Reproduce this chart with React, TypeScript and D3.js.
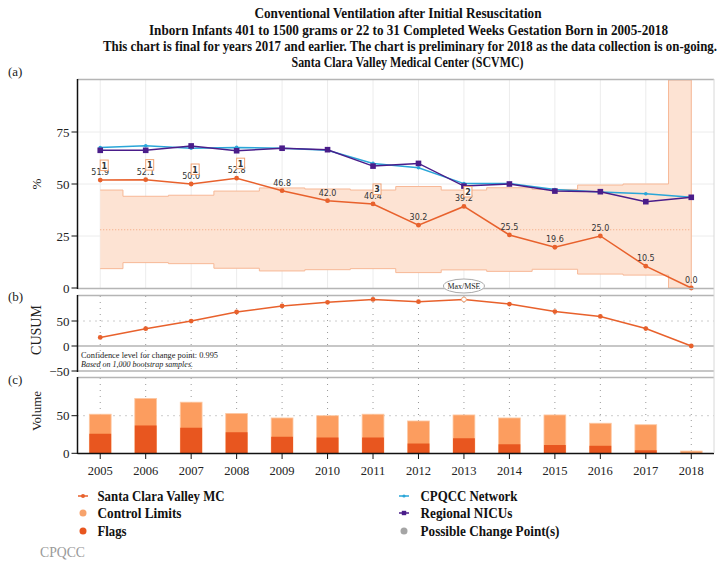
import React from "react";
import * as d3 from "d3";

const years = [2005, 2006, 2007, 2008, 2009, 2010, 2011, 2012, 2013, 2014, 2015, 2016, 2017, 2018];
const scvmc = [51.9, 52.1, 50.0, 52.8, 46.8, 42.0, 40.4, 30.2, 39.2, 25.5, 19.6, 25.0, 10.5, 0.0];
const network = [67.5, 68.4, 67.2, 67.6, 67.2, 66.2, 59.9, 57.8, 50.2, 50.2, 47.3, 46.2, 45.3, 43.6];
const regional = [66.2, 66.2, 68.3, 66.0, 67.2, 66.5, 58.6, 59.9, 49.0, 50.0, 46.6, 46.3, 41.5, 43.6];
const upperLimit = [47.1, 44.1, 44.6, 46.6, 48.1, 47.6, 47.1, 48.8, 47.1, 48.2, 47.4, 49.5, 50.0, 100];
const lowerLimit = [9.3, 12.2, 11.7, 9.5, 8.2, 8.8, 9.3, 7.4, 8.7, 8.0, 9.0, 6.7, 6.2, 0];
const centerValue = 28.0;
const flags = [1, 1, 1, 1, 0, 0, 3, 0, 2, 0, 0, 0, 0, 0];
const cusum = [17.2, 34.6, 49.9, 68.0, 80.1, 87.4, 93.1, 88.6, 93.1, 83.9, 68.8, 59.1, 34.9, 0.0];
const changePointYear = 2013;
const volumeTotal = [52, 73, 68, 53, 47, 50, 52, 43, 51, 47, 51, 40, 38, 3];
const volumeFlagged = [26, 37, 34, 28, 22, 21, 21, 13, 20, 12, 11, 10, 4, 0];
const ticksA = [0, 25, 50, 75];
const ticksB = [-50, 0, 50];
const ticksC = [0, 50];

const titleLines = [
  "Conventional Ventilation after Initial Resuscitation",
  "Inborn Infants 401 to 1500 grams or 22 to 31 Completed Weeks Gestation Born in 2005-2018",
  "This chart is final for years 2017 and earlier. The chart is preliminary for 2018 as the data collection is on-going.",
  "Santa Clara Valley Medical Center (SCVMC)",
];

const C_SC = "#e8612c";
const C_NET = "#2aa6d8";
const C_REG = "#4a1d8a";
const C_BAND = "#fde3d3";
const C_BAND_STROKE = "#f7b896";
const C_LIGHT = "#fc9d5f";
const C_DARK = "#e8561f";
const C_FRAME = "#b5b5b5";
const SERIF = "'Liberation Serif', 'DejaVu Serif', serif";
const SANS = "'DejaVu Sans', Verdana, sans-serif";

export default function App() {
  const W = 726, H = 568;
  const x = d3.scaleBand<number>().domain(years).range([77.5, 714]);
  const cx = (yr: number) => (x(yr) as number) + x.bandwidth() / 2;
  const ya = d3.scaleLinear().domain([0, 100]).range([288, 80]);
  const yb = d3.scaleLinear().domain([-50, 100]).range([371, 296]);
  const yc = d3.scaleLinear().domain([0, 100]).range([453.3, 378.1]);
  const left = 77.5, right = 714;

  const idx = years.map((_, i) => i);
  const lineA = (vals: number[]) =>
    d3.line<number>().x((i) => cx(years[i])).y((i) => ya(vals[i]))(idx) || "";
  const upperPath = d3.line<number>().x((i) => cx(years[i])).y((i) => ya(upperLimit[i])).curve(d3.curveStep)(idx) || "";
  const lowerPath = d3.line<number>().x((i) => cx(years[i])).y((i) => ya(lowerLimit[i])).curve(d3.curveStep)(idx) || "";
  const bandPath = d3.area<number>().x((i) => cx(years[i])).y0((i) => ya(lowerLimit[i])).y1((i) => ya(upperLimit[i])).curve(d3.curveStep)(idx) || "";
  const cusumPath = d3.line<number>().x((i) => cx(years[i])).y((i) => yb(cusum[i]))(idx) || "";

  const barW = x.bandwidth() * 0.48;

  const titleSpecs = [
    { cxp: 398, y: 18, len: 287 },
    { cxp: 408.5, y: 35, len: 519 },
    { cxp: 410, y: 51, len: 614 },
    { cxp: 407.5, y: 67, len: 232 },
  ];

  const yTickLabel = (v: number) => (v < 0 ? "\u2212" + Math.abs(v) : String(v));

  return (
    <svg width={W} height={H} style={{ display: "block", position: "absolute", left: 0, top: 0, background: "#fff" }}>
      {/* titles */}
      {titleLines.map((t, i) => (
        <text key={i} x={titleSpecs[i].cxp} y={titleSpecs[i].y} textAnchor="middle" fontFamily={SERIF} fontWeight="bold" fontSize={14} fill="#111" textLength={titleSpecs[i].len} lengthAdjust="spacingAndGlyphs">{t}</text>
      ))}
      <text x={8} y={76} fontFamily={SERIF} fontSize={13} fill="#222">(a)</text>
      <text x={8} y={301} fontFamily={SERIF} fontSize={13} fill="#222">(b)</text>
      <text x={8} y={384} fontFamily={SERIF} fontSize={13} fill="#222">(c)</text>

      {/* ---------- panel a ---------- */}
      {years.map((yr) => (
        <line key={"ga" + yr} x1={cx(yr)} x2={cx(yr)} y1={80} y2={288} stroke="#ececec" strokeWidth={1} />
      ))}
      {[25, 50, 75].map((v) => (
        <line key={"gha" + v} x1={left} x2={right} y1={ya(v)} y2={ya(v)} stroke="#ececec" strokeWidth={1} />
      ))}
      <path d={bandPath} fill={C_BAND} stroke="none" />
      <path d={upperPath} fill="none" stroke={C_BAND_STROKE} strokeWidth={1} />
      <path d={lowerPath} fill="none" stroke={C_BAND_STROKE} strokeWidth={1} />
      <line x1={cx(years[years.length - 1])} x2={cx(years[years.length - 1])} y1={ya(upperLimit[years.length - 1])} y2={ya(0)} stroke={C_BAND_STROKE} strokeWidth={1} />
      <line x1={cx(years[0])} x2={cx(years[years.length - 1])} y1={ya(centerValue)} y2={ya(centerValue)} stroke="#f3a57a" strokeWidth={1} strokeDasharray="1,2" />

      <path d={lineA(network)} fill="none" stroke={C_NET} strokeWidth={1.5} />
      {network.map((v, i) => (
        <circle key={"nm" + i} cx={cx(years[i])} cy={ya(v)} r={1.8} fill={C_NET} />
      ))}
      <path d={lineA(regional)} fill="none" stroke={C_REG} strokeWidth={1.5} />
      {regional.map((v, i) => (
        <rect key={"rm" + i} x={cx(years[i]) - 2.8} y={ya(v) - 2.8} width={5.6} height={5.6} fill={C_REG} />
      ))}
      <path d={lineA(scvmc)} fill="none" stroke={C_SC} strokeWidth={1.5} />
      {scvmc.map((v, i) => (
        <circle key={"sm" + i} cx={cx(years[i])} cy={ya(v)} r={2.4} fill={C_SC} />
      ))}
      {scvmc.map((v, i) => (
        <text key={"sl" + i} x={cx(years[i])} y={ya(v) - 5} textAnchor="middle" fontFamily={SANS} fontSize={8} fill="#333">{v.toFixed(1)}</text>
      ))}
      {flags.map((f, i) =>
        f > 0 ? (
          <g key={"fl" + i}>
            <rect x={cx(years[i])} y={ya(scvmc[i]) - 20} width={8} height={10.5} fill="#fff" stroke="#f0a274" strokeWidth={1} />
            <text x={cx(years[i]) + 4} y={ya(scvmc[i]) - 11.5} textAnchor="middle" fontFamily={SANS} fontSize={8} fontWeight="bold" fill="#333">{f}</text>
          </g>
        ) : null
      )}
      {/* frame a */}
      <line x1={left} x2={right} y1={79.5} y2={79.5} stroke={C_FRAME} strokeWidth={1.5} />
      <line x1={left} x2={right} y1={288.5} y2={288.5} stroke={C_FRAME} strokeWidth={1.5} />
      <line x1={left} x2={left} y1={79} y2={289} stroke="#111" strokeWidth={1.5} />
      {ticksA.map((v) => (
        <g key={"ta" + v}>
          <line x1={left - 6} x2={left} y1={ya(v)} y2={ya(v)} stroke="#111" strokeWidth={1} />
          <text x={left - 8} y={ya(v) + 4.5} textAnchor="end" fontFamily={SERIF} fontSize={13} fill="#222">{yTickLabel(v)}</text>
        </g>
      ))}
      <text transform={`translate(41,${ya(50)}) rotate(-90)`} textAnchor="middle" fontFamily={SERIF} fontSize={13} fill="#222">%</text>

      {/* Max/MSE label */}
      <ellipse cx={cx(changePointYear)} cy={286} rx={20.5} ry={7} fill="#fff" stroke="#aaa" strokeWidth={1} />
      <text x={cx(changePointYear)} y={289} textAnchor="middle" fontFamily={SERIF} fontSize={9} fill="#222" textLength={33} lengthAdjust="spacingAndGlyphs">Max/MSE</text>

      {/* ---------- panel b ---------- */}
      {years.map((yr) => (
        <line key={"gb" + yr} x1={cx(yr)} x2={cx(yr)} y1={296} y2={371} stroke="#999" strokeWidth={1} strokeDasharray="1,5" />
      ))}
      <line x1={left} x2={right} y1={yb(50)} y2={yb(50)} stroke="#999" strokeWidth={1} strokeDasharray="1,5" />
      <line x1={left} x2={right} y1={yb(0)} y2={yb(0)} stroke={C_FRAME} strokeWidth={1.5} />
      <path d={cusumPath} fill="none" stroke={C_SC} strokeWidth={1.5} />
      {cusum.map((v, i) =>
        years[i] === changePointYear ? (
          <circle key={"cm" + i} cx={cx(years[i])} cy={yb(v)} r={2.4} fill="#fff" stroke="#f0a274" strokeWidth={1} />
        ) : (
          <circle key={"cm" + i} cx={cx(years[i])} cy={yb(v)} r={2.4} fill={C_SC} />
        )
      )}
      <text x={81} y={358} fontFamily={SERIF} fontSize={9} fill="#222" textLength={137} lengthAdjust="spacingAndGlyphs">Confidence level for change point: 0.995</text>
      <text x={81} y={367} fontFamily={SERIF} fontSize={9} fontStyle="italic" fill="#222" textLength={112} lengthAdjust="spacingAndGlyphs">Based on 1,000 bootstrap samples.</text>
      <line x1={left} x2={right} y1={295.5} y2={295.5} stroke={C_FRAME} strokeWidth={1.5} />
      <line x1={left} x2={right} y1={371} y2={371} stroke={C_FRAME} strokeWidth={1.5} />
      <line x1={left} x2={left} y1={295} y2={372} stroke="#111" strokeWidth={1.5} />
      {ticksB.map((v) => (
        <g key={"tb" + v}>
          <line x1={left - 6} x2={left} y1={yb(v)} y2={yb(v)} stroke="#111" strokeWidth={1} />
          <text x={left - 8} y={yb(v) + 4.5} textAnchor="end" fontFamily={SERIF} fontSize={13} fill="#222">{yTickLabel(v)}</text>
        </g>
      ))}
      <text transform={`translate(41,330) rotate(-90)`} textAnchor="middle" fontFamily={SERIF} fontSize={14} fill="#222">CUSUM</text>

      {/* ---------- panel c ---------- */}
      {years.map((yr) => (
        <line key={"gc" + yr} x1={cx(yr)} x2={cx(yr)} y1={378} y2={453} stroke="#999" strokeWidth={1} strokeDasharray="1,5" />
      ))}
      <line x1={left} x2={right} y1={yc(50)} y2={yc(50)} stroke="#999" strokeWidth={1} strokeDasharray="1,5" />
      {volumeTotal.map((v, i) => (
        <rect key={"bt" + i} x={cx(years[i]) - barW / 2} y={yc(v)} width={barW} height={yc(0) - yc(v)} fill={C_LIGHT} stroke="#fdc9a4" strokeWidth={0.8} />
      ))}
      {volumeFlagged.map((v, i) =>
        v > 0 ? (
          <rect key={"bf" + i} x={cx(years[i]) - barW / 2} y={yc(v)} width={barW} height={yc(0) - yc(v)} fill={C_DARK} />
        ) : null
      )}
      <line x1={left} x2={right} y1={377.5} y2={377.5} stroke={C_FRAME} strokeWidth={1.5} />
      <line x1={left} x2={left} y1={377} y2={454} stroke="#111" strokeWidth={1.5} />
      <line x1={left} x2={right} y1={453.5} y2={453.5} stroke="#111" strokeWidth={1.5} />
      {ticksC.map((v) => (
        <g key={"tc" + v}>
          <line x1={left - 6} x2={left} y1={yc(v)} y2={yc(v)} stroke="#111" strokeWidth={1} />
          <text x={left - 8} y={yc(v) + 4.5} textAnchor="end" fontFamily={SERIF} fontSize={13} fill="#222">{yTickLabel(v)}</text>
        </g>
      ))}
      {years.map((yr) => (
        <g key={"tx" + yr}>
          <line x1={cx(yr)} x2={cx(yr)} y1={453.5} y2={459} stroke="#111" strokeWidth={1} />
          <text x={cx(yr)} y={475} textAnchor="middle" fontFamily={SERIF} fontSize={12.5} fill="#222">{yr}</text>
        </g>
      ))}
      <text transform={`translate(41,411) rotate(-90)`} textAnchor="middle" fontFamily={SERIF} fontSize={13} fill="#222">Volume</text>

      {/* right edge */}
      <line x1={right} x2={right} y1={79} y2={453} stroke="#d8d8d8" strokeWidth={1} />

      {/* ---------- legend ---------- */}
      <g>
        <line x1={78} x2={88} y1={496} y2={496} stroke={C_SC} strokeWidth={1.5} />
        <circle cx={83} cy={496} r={2} fill={C_SC} />
        <text x={97.5} y={500.5} fontFamily={SERIF} fontWeight="bold" fontSize={14} fill="#111" textLength={127} lengthAdjust="spacingAndGlyphs">Santa Clara Valley MC</text>
        <circle cx={83} cy={513} r={3.5} fill="#f7a36c" />
        <text x={97.5} y={517.5} fontFamily={SERIF} fontWeight="bold" fontSize={14} fill="#111" textLength={84} lengthAdjust="spacingAndGlyphs">Control Limits</text>
        <circle cx={83} cy={531} r={3.5} fill={C_DARK} />
        <text x={97.5} y={535.5} fontFamily={SERIF} fontWeight="bold" fontSize={14} fill="#111" textLength={29} lengthAdjust="spacingAndGlyphs">Flags</text>

        <line x1={399} x2={409} y1={496} y2={496} stroke={C_NET} strokeWidth={1.5} />
        <circle cx={404} cy={496} r={1.6} fill={C_NET} />
        <text x={420.5} y={500.5} fontFamily={SERIF} fontWeight="bold" fontSize={14} fill="#111" textLength={97} lengthAdjust="spacingAndGlyphs">CPQCC Network</text>
        <line x1={399} x2={409} y1={513} y2={513} stroke={C_REG} strokeWidth={1.5} />
        <rect x={401.8} y={510.8} width={4.4} height={4.4} fill={C_REG} />
        <text x={420.5} y={517.5} fontFamily={SERIF} fontWeight="bold" fontSize={14} fill="#111" textLength={92} lengthAdjust="spacingAndGlyphs">Regional NICUs</text>
        <circle cx={404} cy={531} r={3.5} fill="#a5a5a5" />
        <text x={420.5} y={535.5} fontFamily={SERIF} fontWeight="bold" fontSize={14} fill="#111" textLength={139} lengthAdjust="spacingAndGlyphs">Possible Change Point(s)</text>
      </g>
      <text x={40} y={557} fontFamily={SERIF} fontSize={14} fill="#9a9a9a" textLength={45} lengthAdjust="spacingAndGlyphs">CPQCC</text>
    </svg>
  );
}
